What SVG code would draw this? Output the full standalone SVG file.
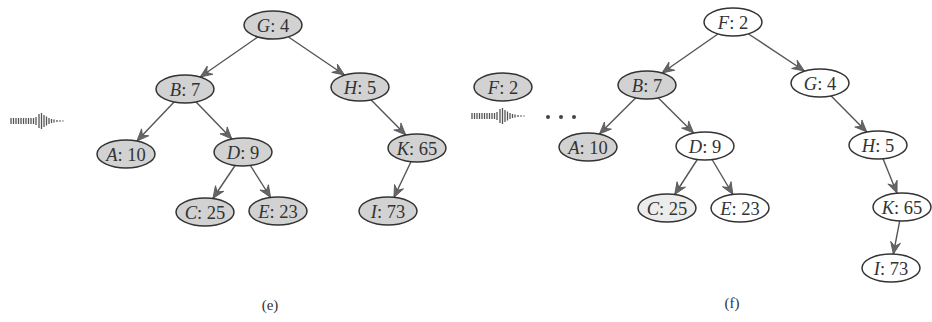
<svg xmlns="http://www.w3.org/2000/svg" xmlns:xlink="http://www.w3.org/1999/xlink" width="932" height="322" viewBox="0 0 932 322">
<style>
.n ellipse{stroke:#333;stroke-width:1.5}
.sh ellipse{fill:#d2d2d2}
.lt ellipse{fill:#ececec}
.wh ellipse{fill:#ffffff}
.n text{font-family:"Liberation Serif","Times New Roman",serif;font-size:18.5px;fill:#333;text-anchor:middle}
.i{font-style:italic}
.e line{stroke:#555;stroke-width:1.4;marker-end:url(#ah)}
.cap{font-family:"Liberation Serif","Times New Roman",serif;font-size:15px;fill:#333;text-anchor:middle}
.da line{stroke:#555;stroke-width:1.3}
</style>
<defs>
<marker id="ah" markerUnits="userSpaceOnUse" markerWidth="14" markerHeight="12" viewBox="0 0 14 12" refX="13" refY="6" orient="auto">
<path d="M1,1 L13,6 L1,11 L5,6 z" fill="#666" stroke="#555" stroke-width="0.8"/>
</marker>
<g id="dotarrow" class="da">
<line x1="11" y1="118" x2="11" y2="124"/><line x1="13.5" y1="118" x2="13.5" y2="124"/><line x1="16" y1="118" x2="16" y2="124"/><line x1="18.5" y1="118" x2="18.5" y2="124"/><line x1="21" y1="118" x2="21" y2="124"/><line x1="23.5" y1="118" x2="23.5" y2="124"/><line x1="26" y1="118" x2="26" y2="124"/><line x1="28.5" y1="118" x2="28.5" y2="124"/><line x1="31" y1="118" x2="31" y2="124"/><line x1="33.5" y1="118" x2="33.5" y2="124"/><line x1="36" y1="117" x2="36" y2="125"/>
<line x1="39" y1="114" x2="39" y2="128"/><line x1="41.5" y1="113" x2="41.5" y2="129"/><line x1="44" y1="115" x2="44" y2="127"/><line x1="46.5" y1="116.5" x2="46.5" y2="125.5"/><line x1="49" y1="118" x2="49" y2="124"/><line x1="51.5" y1="119" x2="51.5" y2="123"/><line x1="54" y1="119.5" x2="54" y2="122.5"/>
<line x1="57" y1="120" x2="57" y2="122"/><line x1="60" y1="120.2" x2="60" y2="121.8"/><line x1="63" y1="120.4" x2="63" y2="121.6"/>
</g>
</defs>
<rect width="932" height="322" fill="#ffffff"/>

<use xlink:href="#dotarrow" href="#dotarrow"/>
<use xlink:href="#dotarrow" href="#dotarrow" transform="translate(461,-5)"/>
<g id="dots" fill="#444">
<circle cx="548" cy="117" r="2"/><circle cx="561" cy="117" r="2"/><circle cx="574" cy="117" r="2"/>
</g>

<g id="connectors" class="e">
<line x1="257.8" y1="37" x2="200.2" y2="77"/>
<line x1="288.5" y1="37" x2="344.5" y2="75"/>
<line x1="174.1" y1="102" x2="136.9" y2="141"/>
<line x1="196.1" y1="102" x2="231.9" y2="139"/>
<line x1="371.2" y1="100" x2="405.8" y2="135"/>
<line x1="235.1" y1="165.5" x2="212.9" y2="198.5"/>
<line x1="250.4" y1="165.5" x2="270.6" y2="197.5"/>
<line x1="411.1" y1="161.5" x2="393.9" y2="197.5"/>

<line x1="717.9" y1="34" x2="662" y2="73"/>
<line x1="748.6" y1="34" x2="804.4" y2="71"/>
<line x1="635.6" y1="98" x2="599.4" y2="134"/>
<line x1="658.4" y1="98" x2="693.6" y2="133"/>
<line x1="831.2" y1="96" x2="866.8" y2="132"/>
<line x1="697.3" y1="159.5" x2="674.7" y2="194.5"/>
<line x1="712.1" y1="159.5" x2="732.9" y2="194.5"/>
<line x1="883" y1="158.8" x2="897" y2="193.2"/>
<line x1="899.7" y1="220.9" x2="893.3" y2="254.1"/>
</g>

<g id="e-G4" class="n sh"><ellipse cx="273" cy="25" rx="29" ry="14"/><text x="273" y="31.5"><tspan class="i">G</tspan>: 4</text></g>
<g id="e-B7" class="n sh"><ellipse cx="185" cy="89" rx="29" ry="14"/><text x="185" y="95.5"><tspan class="i">B</tspan>: 7</text></g>
<g id="e-H5" class="n sh"><ellipse cx="360" cy="87" rx="29" ry="14"/><text x="360" y="93.5"><tspan class="i">H</tspan>: 5</text></g>
<g id="e-A10" class="n sh"><ellipse cx="126" cy="154" rx="29" ry="14"/><text x="126" y="160.5"><tspan class="i">A</tspan>: 10</text></g>
<g id="e-D9" class="n sh"><ellipse cx="243" cy="152" rx="29" ry="14"/><text x="243" y="158.5"><tspan class="i">D</tspan>: 9</text></g>
<g id="e-K65" class="n sh"><ellipse cx="417" cy="148" rx="29" ry="14"/><text x="417" y="154.5"><tspan class="i">K</tspan>: 65</text></g>
<g id="e-C25" class="n sh"><ellipse cx="205" cy="212" rx="29" ry="14"/><text x="205" y="218.5"><tspan class="i">C</tspan>: 25</text></g>
<g id="e-E23" class="n sh"><ellipse cx="278" cy="211" rx="29" ry="14"/><text x="278" y="217.5"><tspan class="i">E</tspan>: 23</text></g>
<g id="e-I73" class="n sh"><ellipse cx="388" cy="211" rx="29" ry="14"/><text x="388" y="217.5"><tspan class="i">I</tspan>: 73</text></g>

<g id="f-F2-new" class="n sh"><ellipse cx="503" cy="87" rx="29" ry="14"/><text x="503" y="93.5"><tspan class="i">F</tspan>: 2</text></g>
<g id="f-F2" class="n wh"><ellipse cx="733" cy="22" rx="29" ry="14"/><text x="733" y="28.5"><tspan class="i">F</tspan>: 2</text></g>
<g id="f-B7" class="n sh"><ellipse cx="647" cy="85" rx="29" ry="14"/><text x="647" y="91.5"><tspan class="i">B</tspan>: 7</text></g>
<g id="f-G4" class="n wh"><ellipse cx="820" cy="83" rx="29" ry="14"/><text x="820" y="89.5"><tspan class="i">G</tspan>: 4</text></g>
<g id="f-A10" class="n sh"><ellipse cx="588" cy="147" rx="29" ry="14"/><text x="588" y="153.5"><tspan class="i">A</tspan>: 10</text></g>
<g id="f-D9" class="n wh"><ellipse cx="705" cy="146" rx="29" ry="14"/><text x="705" y="152.5"><tspan class="i">D</tspan>: 9</text></g>
<g id="f-H5" class="n wh"><ellipse cx="878" cy="145" rx="29" ry="14"/><text x="878" y="151.5"><tspan class="i">H</tspan>: 5</text></g>
<g id="f-C25" class="n lt"><ellipse cx="667" cy="208" rx="29" ry="14"/><text x="667" y="214.5"><tspan class="i">C</tspan>: 25</text></g>
<g id="f-E23" class="n wh"><ellipse cx="740" cy="208" rx="29" ry="14"/><text x="740" y="214.5"><tspan class="i">E</tspan>: 23</text></g>
<g id="f-K65" class="n wh"><ellipse cx="902" cy="207" rx="29" ry="14"/><text x="902" y="213.5"><tspan class="i">K</tspan>: 65</text></g>
<g id="f-I73" class="n wh"><ellipse cx="891" cy="268" rx="29" ry="14"/><text x="891" y="274.5"><tspan class="i">I</tspan>: 73</text></g>

<text class="cap" x="270" y="310">(e)</text>
<text class="cap" x="732" y="308">(f)</text>
</svg>
